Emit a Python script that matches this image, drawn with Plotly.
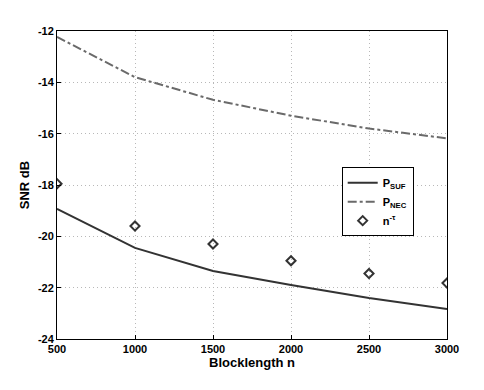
import plotly.graph_objects as go

n = [500, 1000, 1500, 2000, 2500, 3000]
p_suf = [-18.93, -20.45, -21.35, -21.9, -22.4, -22.83]
p_nec = [-12.23, -13.8, -14.68, -15.3, -15.8, -16.18]
n_tau = [-17.95, -19.6, -20.3, -20.95, -21.45, -21.82]
y_ticks = [-24, -22, -20, -18, -16, -14, -12]

fig = go.Figure()
fig.add_trace(go.Scatter(x=n, y=p_suf, mode="lines", name="<b>P<sub>SUF</sub></b>",
                         line=dict(color="#333333", width=2)))
fig.add_trace(go.Scatter(x=n, y=p_nec, mode="lines", name="<b>P<sub>NEC</sub></b>",
                         line=dict(color="#6a6a6a", width=2, dash="dashdot")))
fig.add_trace(go.Scatter(x=n, y=n_tau, mode="markers", name="<b>n<sup>-τ</sup></b>",
                         marker=dict(symbol="diamond-open", size=7, color="#333333",
                                     line=dict(width=2, color="#333333"))))

axis_common = dict(showline=True, linecolor="black", linewidth=1, mirror=True,
                   ticks="inside", ticklen=4, tickcolor="black",
                   showgrid=True, gridcolor="#b8b8b8", griddash="1px,3px", gridwidth=1,
                   zeroline=False,
                   tickfont=dict(family="Liberation Sans", size=11, color="black"))

fig.update_xaxes(range=[500, 3000], tickvals=n, ticktext=[f"<b>{v}</b>" for v in n],
                 title=dict(text="<b>Blocklength n</b>", standoff=2,
                            font=dict(family="Liberation Sans", size=13, color="black")),
                 **axis_common)
fig.update_yaxes(range=[-24, -12], tickvals=y_ticks, ticktext=[f"<b>{v}</b>" for v in y_ticks],
                 title=dict(text="<b>SNR dB</b>", standoff=5,
                            font=dict(family="Liberation Sans", size=13, color="black")),
                 **axis_common)

fig.update_layout(
    width=476, height=382,
    margin=dict(l=49, r=37, t=23, b=51),
    plot_bgcolor="white", paper_bgcolor="white",
    showlegend=True,
    legend=dict(x=0.73, y=0.558, xanchor="left", yanchor="top",
                bgcolor="white", bordercolor="black", borderwidth=1,
                font=dict(family="Liberation Sans", size=11, color="black"),
                itemwidth=30, tracegroupgap=0),
)

fig.write_html("out.html")
